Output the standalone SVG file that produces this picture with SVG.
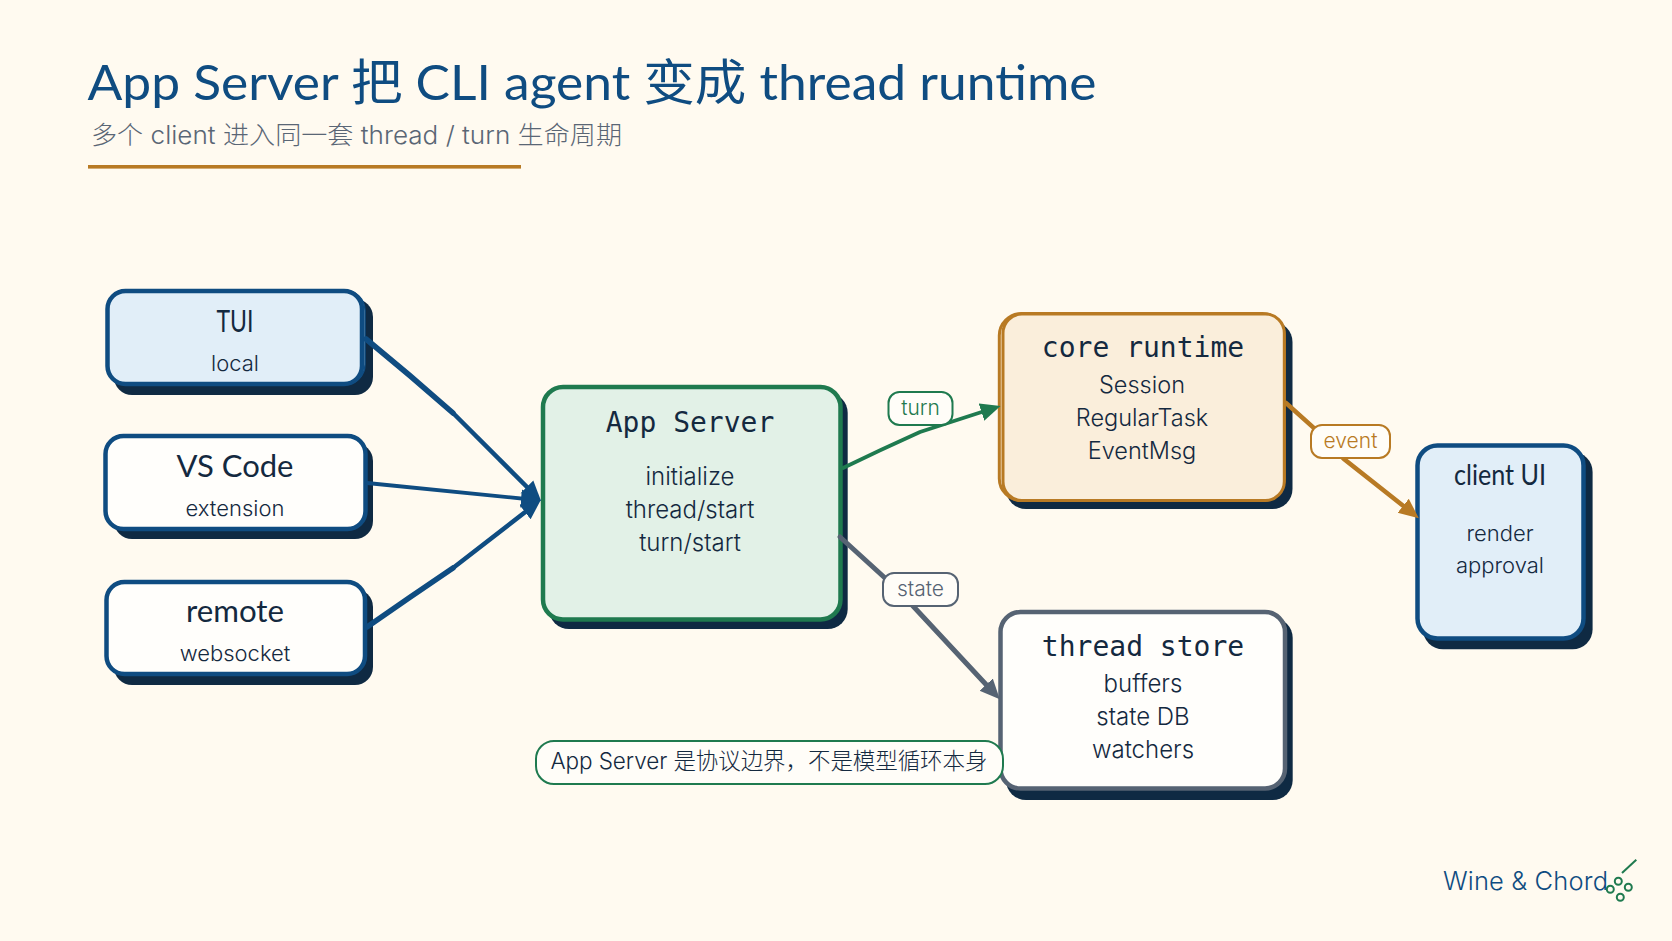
<svg xmlns="http://www.w3.org/2000/svg" width="1672" height="941" viewBox="0 0 1672 941">
<style>
text{font-family:"Inter","Noto Sans CJK SC",sans-serif;fill:#14293f;text-anchor:middle}
.head{font-family:"Lato","Noto Sans CJK SC",sans-serif;font-size:30px}
.mono{font-family:"DejaVu Sans Mono","Noto Sans CJK SC",monospace;font-size:28px}
.sub{font-size:22px;font-weight:300}
.mid{font-size:24px;font-weight:300}
.core{font-size:23.5px;font-weight:300}
.sh{fill:#0f2a43}
.box{stroke-width:4.5}
.blue{stroke:#0f4c81}.green{stroke:#1f7a4f}.orange{stroke:#b87a24}.slate{stroke:#566373}
.edge{fill:none;stroke-linecap:round}
.tag{fill:#fffdf8;stroke-width:2}
.tagt{font-size:21px;font-weight:300}
</style>
<defs>
<marker id="aB" markerUnits="userSpaceOnUse" viewBox="0 0 20 20" markerWidth="20" markerHeight="20" refX="10" refY="10" orient="auto"><path d="M0,1 L20,10 L0,19 Z" fill="#0f4c81"/></marker>
<marker id="aG" markerUnits="userSpaceOnUse" viewBox="0 0 20 20" markerWidth="20" markerHeight="20" refX="10" refY="10" orient="auto"><path d="M0,1 L20,10 L0,19 Z" fill="#1f7a4f"/></marker>
<marker id="aO" markerUnits="userSpaceOnUse" viewBox="0 0 20 20" markerWidth="20" markerHeight="20" refX="10" refY="10" orient="auto"><path d="M0,1 L20,10 L0,19 Z" fill="#b87a24"/></marker>
<marker id="aS" markerUnits="userSpaceOnUse" viewBox="0 0 20 20" markerWidth="20" markerHeight="20" refX="10" refY="10" orient="auto"><path d="M0,1 L20,10 L0,19 Z" fill="#566373"/></marker>
</defs>
<rect width="1672" height="941" fill="#fffaf0"/>
<g id="header">
<text x="87.5" y="100" font-size="49" textLength="1009" lengthAdjust="spacingAndGlyphs" style="text-anchor:start;font-family:'Lato','Noto Sans CJK SC',sans-serif;fill:#0f4c81">App Server 把 CLI agent 变成 thread runtime</text>
<text x="91" y="144" font-size="25" font-weight="300" textLength="531" lengthAdjust="spacingAndGlyphs" style="text-anchor:start;fill:#5a6675">多个 client 进入同一套 thread / turn 生命周期</text>
<rect x="88" y="165" width="433" height="3.6" fill="#b87a24"/>
</g>
<g id="node-tui">
<rect class="sh" x="114" y="299" width="259" height="96" rx="18"/>
<rect class="blue" x="107" y="290.500" width="258" height="94" rx="20" fill="#e1eef8" stroke-width="1.500"/>
<rect class="box blue" x="107.500" y="291" width="254.500" height="93" rx="18" fill="#e1eef8"/>
<text class="head" x="235" y="332" textLength="37" lengthAdjust="spacingAndGlyphs">TUI</text>
<text class="sub" x="235" y="371">local</text>
</g>
<g id="node-vscode">
<rect class="sh" x="114" y="443" width="259" height="96" rx="18"/>
<rect class="box blue" x="105.500" y="436" width="260" height="93" rx="18" fill="#fffefb"/>
<text class="head" x="235" y="477" textLength="117" lengthAdjust="spacingAndGlyphs">VS Code</text>
<text class="sub" x="235" y="516">extension</text>
</g>
<g id="node-remote">
<rect class="sh" x="114" y="589" width="259" height="96" rx="18"/>
<rect class="box blue" x="106.500" y="582" width="258.500" height="92" rx="18" fill="#fffefb"/>
<text class="head" x="235" y="622" textLength="98" lengthAdjust="spacingAndGlyphs">remote</text>
<text class="sub" x="235" y="661">websocket</text>
</g>
<g id="node-app-server">
<rect class="sh" x="549" y="393" width="298.700" height="236" rx="20"/>
<rect class="box green" x="543" y="387" width="297.500" height="232.500" rx="20" fill="#e2f1e7"/>
<text class="mono" x="690" y="431.500">App Server</text>
<text class="mid" x="690" y="485">initialize</text>
<text class="mid" x="690" y="518">thread/start</text>
<text class="mid" x="690" y="551">turn/start</text>
</g>
<g id="node-core-runtime">
<rect class="sh" x="1006" y="322" width="286.500" height="187" rx="20"/>
<rect class="orange" x="999.300" y="313.500" width="285" height="187" rx="22" fill="#faeedb" stroke-width="3"/>
<rect class="orange" x="1003" y="314" width="281.300" height="186.500" rx="19" fill="#faeedb" stroke-width="3"/>
<text class="mono" x="1143" y="357">core runtime</text>
<text class="core" x="1142" y="393">Session</text>
<text class="core" x="1142" y="426">RegularTask</text>
<text class="core" x="1142" y="459">EventMsg</text>
</g>
<g id="node-thread-store">
<rect class="sh" x="1006" y="618" width="286.700" height="182" rx="20"/>
<rect class="box slate" x="1000.500" y="612" width="284.500" height="176.500" rx="20" fill="#fffefb"/>
<text class="mono" x="1143" y="656">thread store</text>
<text class="mid" x="1143" y="692">buffers</text>
<text class="mid" x="1143" y="725">state DB</text>
<text class="mid" x="1143" y="758">watchers</text>
</g>
<g id="node-client-ui">
<rect class="sh" x="1423" y="452" width="169.600" height="197.300" rx="20"/>
<rect class="box blue" x="1417.500" y="445.500" width="166" height="193" rx="20" fill="#e1eef8"/>
<text class="head" x="1500" y="485" textLength="92" lengthAdjust="spacingAndGlyphs" style="font-size:28px">client UI</text>
<text class="sub" x="1500" y="541">render</text>
<text class="sub" x="1500" y="573">approval</text>
</g>
<g id="connectors">
<g id="edge-tui-app">
<path class="edge blue" stroke-width="5.500" d="M366,339 Q410,375 453,413"/>
<path class="edge blue" stroke-width="4.500" d="M453,413 L534,494" marker-end="url(#aB)"/>
</g>
<path id="edge-vscode-app" class="edge blue" stroke-width="3.800" d="M367,483 L531,499.500" marker-end="url(#aB)"/>
<g id="edge-remote-app">
<path class="edge blue" stroke-width="5.500" d="M367,627 Q410,597 453,568"/>
<path class="edge blue" stroke-width="4.500" d="M453,568 L533,506" marker-end="url(#aB)"/>
</g>
<path id="edge-app-core" class="edge green" stroke-width="3.800" d="M843,468 Q880,450 920,432 L991,409" marker-end="url(#aG)"/>
<path id="edge-app-store" class="edge slate" stroke-width="5" d="M840,537 L885,578 L913,606 L993,692" marker-end="url(#aS)"/>
<path id="edge-core-client" class="edge orange" stroke-width="4.500" d="M1286,403 L1314,428 L1344,459 L1411,512" marker-end="url(#aO)"/>
</g>
<g id="edge-labels">
<g id="label-turn"><rect class="tag green" x="888.500" y="392" width="64" height="33" rx="11"/><text class="tagt" x="920.500" y="415" style="fill:#1f7a4f">turn</text></g>
<g id="label-state"><rect class="tag slate" x="883" y="573" width="75" height="33" rx="11"/><text class="tagt" x="920.500" y="596" style="fill:#566373">state</text></g>
<g id="label-event"><rect class="tag orange" x="1311" y="425" width="79" height="33" rx="11"/><text class="tagt" x="1350.500" y="448" style="fill:#b87a24">event</text></g>
</g>
<g id="callout">
<rect class="tag green" x="536" y="741" width="467" height="43" rx="18"/>
<text x="769" y="769" font-size="22.500" font-weight="300" textLength="437" lengthAdjust="spacing">App Server 是协议边界，不是模型循环本身</text>
</g>
<g id="logo">
<text x="1443" y="890" font-size="25.500" font-weight="300" textLength="165" lengthAdjust="spacing" style="text-anchor:start;fill:#0f4c81">Wine &amp; Chord</text>
<g fill="none" stroke="#1f7a4f" stroke-width="2">
<circle cx="1618.300" cy="881.300" r="3.500"/><circle cx="1628.300" cy="887.300" r="3.500"/><circle cx="1610.300" cy="889.300" r="3.500"/><circle cx="1620.300" cy="897.300" r="3.500"/>
<path d="M1622,873 L1636.300,859.700"/>
</g>
</g>
</svg>
